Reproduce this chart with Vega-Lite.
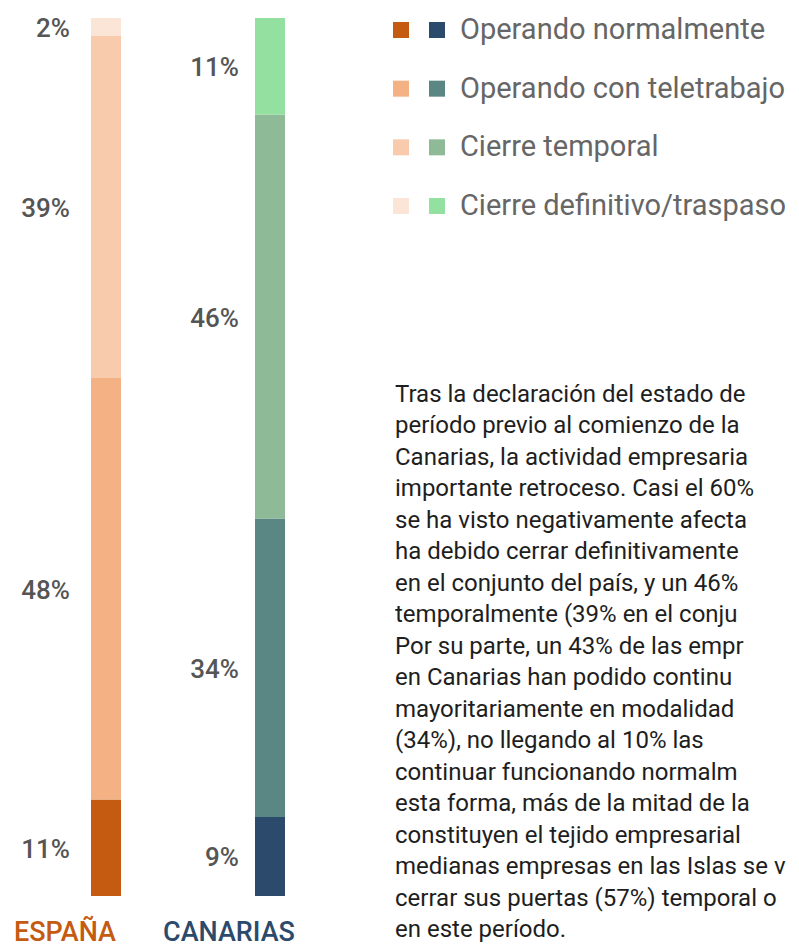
{
  "$schema": "https://vega.github.io/schema/vega-lite/v6.json",
  "padding": {"left": 0, "top": 15, "right": 0, "bottom": 0},
  "background": "white",
  "bounds": "flush",
  "spacing": 19,
  "config": {"view": {"stroke": null}, "font": "Roboto"},
  "datasets": {
    "bars": [
      {"region": "ESPAÑA", "category": "Operando normalmente", "rank": 1, "pct": 11},
      {"region": "ESPAÑA", "category": "Operando con teletrabajo", "rank": 2, "pct": 48},
      {"region": "ESPAÑA", "category": "Cierre temporal", "rank": 3, "pct": 39},
      {"region": "ESPAÑA", "category": "Cierre definitivo/traspaso", "rank": 4, "pct": 2},
      {"region": "CANARIAS", "category": "Operando normalmente", "rank": 1, "pct": 9},
      {"region": "CANARIAS", "category": "Operando con teletrabajo", "rank": 2, "pct": 34},
      {"region": "CANARIAS", "category": "Cierre temporal", "rank": 3, "pct": 46},
      {"region": "CANARIAS", "category": "Cierre definitivo/traspaso", "rank": 4, "pct": 11}
    ],
    "para": [
      {"line": 1, "text": "Tras la declaración del estado de"},
      {"line": 2, "text": "período previo al comienzo de la"},
      {"line": 3, "text": "Canarias, la actividad empresaria"},
      {"line": 4, "text": "importante retroceso. Casi el 60%"},
      {"line": 5, "text": "se ha visto negativamente afecta"},
      {"line": 6, "text": "ha debido cerrar definitivamente"},
      {"line": 7, "text": "en el conjunto del país, y un 46%"},
      {"line": 8, "text": "temporalmente (39% en el conju"},
      {"line": 9, "text": "Por su parte, un 43% de las empr"},
      {"line": 10, "text": "en Canarias han podido continu"},
      {"line": 11, "text": "mayoritariamente en modalidad"},
      {"line": 12, "text": "(34%), no llegando al 10% las"},
      {"line": 13, "text": "continuar funcionando normalm"},
      {"line": 14, "text": "esta forma, más de la mitad de la"},
      {"line": 15, "text": "constituyen el tejido empresarial"},
      {"line": 16, "text": "medianas empresas en las Islas se v"},
      {"line": 17, "text": "cerrar sus puertas (57%) temporal o"},
      {"line": 18, "text": "en este período."}
    ]
  },
  "hconcat": [
    {
      "width": 376,
      "height": 878,
      "data": {"name": "bars"},
      "transform": [
        {"calculate": "datum.region + ' · ' + datum.category", "as": "key"},
        {"calculate": "datum.pct + '%'", "as": "label"},
        {"stack": "pct", "groupby": ["region"], "sort": [{"field": "rank", "order": "ascending"}], "as": ["y0", "y1"]},
        {"calculate": "(datum.y0 + datum.y1) / 2", "as": "ymid"}
      ],
      "encoding": {
        "x": {
          "field": "region", "type": "nominal", "sort": ["ESPAÑA", "CANARIAS"],
          "scale": {"paddingInner": 0.8171, "paddingOuter": 0.5549},
          "axis": {
            "title": null, "domain": false, "ticks": false, "tickSize": 0, "grid": false,
            "labelAngle": 0, "labelAlign": "center", "labelOffset": -41,
            "labelBaseline": "alphabetic", "labelPadding": 44,
            "labelFont": "Roboto", "labelFontSize": 27, "labelFontWeight": 500,
            "labelColor": {"expr": "datum.value == 'ESPAÑA' ? '#C55A11' : '#2C4A6B'"}
          }
        }
      },
      "layer": [
        {
          "mark": {"type": "bar"},
          "encoding": {
            "y": {"field": "y0", "type": "quantitative", "scale": {"domain": [0, 100], "nice": false, "zero": false}, "axis": null},
            "y2": {"field": "y1"},
            "color": {
              "field": "key", "type": "nominal", "legend": null,
              "scale": {
                "domain": [
                  "ESPAÑA · Operando normalmente", "ESPAÑA · Operando con teletrabajo", "ESPAÑA · Cierre temporal", "ESPAÑA · Cierre definitivo/traspaso",
                  "CANARIAS · Operando normalmente", "CANARIAS · Operando con teletrabajo", "CANARIAS · Cierre temporal", "CANARIAS · Cierre definitivo/traspaso"
                ],
                "range": ["#C55A11", "#F4B183", "#F8CBAD", "#FBE5D6", "#2C4A6B", "#5A8783", "#8EBA98", "#94E0A1"]
              }
            }
          }
        },
        {
          "transform": [{"filter": "datum.region == 'ESPAÑA'"}],
          "mark": {"type": "text", "align": "right", "baseline": "middle", "dx": -21, "dy": 2, "font": "Roboto", "fontSize": 26, "fontWeight": 500, "color": "#555555"},
          "encoding": {
            "x": {"field": "region", "type": "nominal", "sort": ["ESPAÑA", "CANARIAS"], "bandPosition": 0},
            "y": {"field": "ymid", "type": "quantitative"},
            "text": {"field": "label"}
          }
        },
        {
          "transform": [{"filter": "datum.region == 'CANARIAS'"}],
          "mark": {"type": "text", "align": "right", "baseline": "middle", "dx": -16, "dy": 2, "font": "Roboto", "fontSize": 26, "fontWeight": 500, "color": "#555555"},
          "encoding": {
            "x": {"field": "region", "type": "nominal", "sort": ["ESPAÑA", "CANARIAS"], "bandPosition": 0},
            "y": {"field": "ymid", "type": "quantitative"},
            "text": {"field": "label"}
          }
        }
      ]
    },
    {
      "bounds": "flush",
      "spacing": 162,
      "vconcat": [
        {
          "width": 48,
          "height": 200,
          "data": {"name": "bars"},
          "transform": [{"calculate": "datum.region + ' · ' + datum.category", "as": "key"}],
          "encoding": {
            "x": {"field": "region", "type": "nominal", "sort": ["ESPAÑA", "CANARIAS"], "scale": {"type": "point", "padding": 0.1667}, "axis": null},
            "y": {"field": "category", "type": "nominal", "sort": ["Operando normalmente", "Operando con teletrabajo", "Cierre temporal", "Cierre definitivo/traspaso"], "scale": {"type": "point", "padding": 0.2045}, "axis": null}
          },
          "layer": [
            {
              "mark": {"type": "square", "size": 256, "filled": true, "opacity": 1},
              "encoding": {
                "color": {
                  "field": "key", "type": "nominal", "legend": null,
                  "scale": {
                    "domain": [
                      "ESPAÑA · Operando normalmente", "ESPAÑA · Operando con teletrabajo", "ESPAÑA · Cierre temporal", "ESPAÑA · Cierre definitivo/traspaso",
                      "CANARIAS · Operando normalmente", "CANARIAS · Operando con teletrabajo", "CANARIAS · Cierre temporal", "CANARIAS · Cierre definitivo/traspaso"
                    ],
                    "range": ["#C55A11", "#F4B183", "#F8CBAD", "#FBE5D6", "#2C4A6B", "#5A8783", "#8EBA98", "#94E0A1"]
                  }
                }
              }
            },
            {
              "transform": [{"filter": "datum.region == 'CANARIAS'"}],
              "mark": {"type": "text", "align": "left", "baseline": "middle", "dx": 23, "font": "Roboto", "fontSize": 29, "color": "#666666"},
              "encoding": {"text": {"field": "category"}}
            }
          ]
        },
        {
          "width": 404,
          "height": 566,
          "data": {"name": "para"},
          "mark": {"type": "text", "align": "left", "baseline": "alphabetic", "font": "Roboto", "fontSize": 24, "color": "#1E1E1E", "clip": true},
          "encoding": {
            "x": {"datum": 0, "type": "quantitative", "scale": {"domain": [0, 1], "nice": false}, "axis": null},
            "y": {"field": "line", "type": "quantitative", "scale": {"domain": [0.3016, 18.27], "reverse": true, "nice": false, "zero": false}, "axis": null},
            "text": {"field": "text"}
          }
        }
      ]
    }
  ]
}
